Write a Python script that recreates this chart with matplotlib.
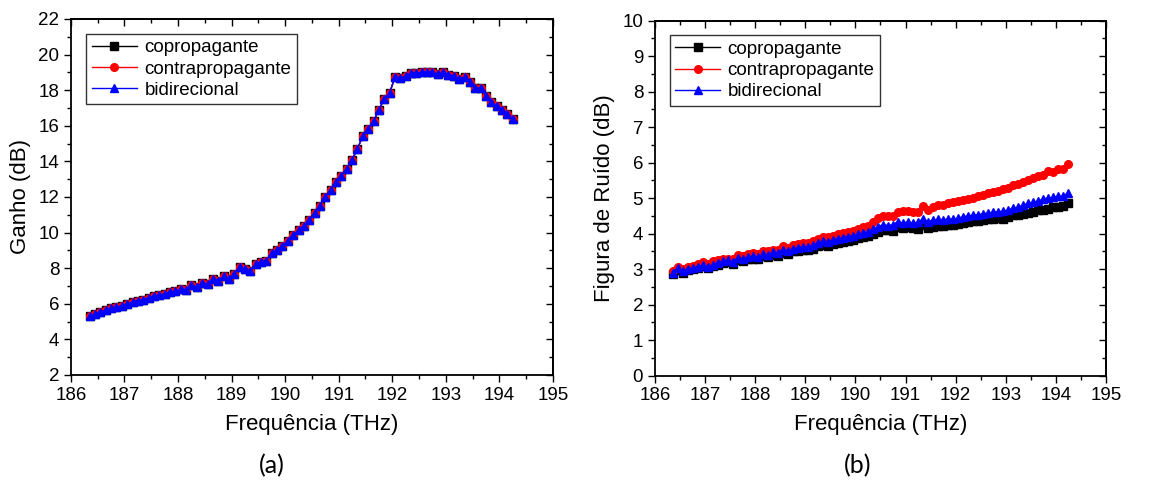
import numpy as np
import matplotlib
matplotlib.use('Agg')
import matplotlib.pyplot as plt
from matplotlib.ticker import MultipleLocator

plt.rcParams['font.family'] = ['Liberation Sans', 'DejaVu Sans']

# frequencias (THz)
freq = [186.35, 186.45, 186.55, 186.65, 186.75, 186.85, 186.95, 187.05, 187.15, 187.25,
        187.35, 187.45, 187.55, 187.65, 187.75, 187.85, 187.95, 188.05, 188.15, 188.25,
        188.35, 188.45, 188.55, 188.65, 188.75, 188.85, 188.95, 189.05, 189.15, 189.25,
        189.35, 189.45, 189.55, 189.65, 189.75, 189.85, 189.95, 190.05, 190.15, 190.25,
        190.35, 190.45, 190.55, 190.65, 190.75, 190.85, 190.95, 191.05, 191.15, 191.25,
        191.35, 191.45, 191.55, 191.65, 191.75, 191.85, 191.95, 192.05, 192.15, 192.25,
        192.35, 192.45, 192.55, 192.65, 192.75, 192.85, 192.95, 193.05, 193.15, 193.25,
        193.35, 193.45, 193.55, 193.65, 193.75, 193.85, 193.95, 194.05, 194.15, 194.25]

# ganho (dB) - as tres curvas praticamente coincidem
ganho = [5.30, 5.40, 5.55, 5.66, 5.75, 5.82, 5.88, 6.00, 6.08, 6.18,
         6.24, 6.34, 6.42, 6.47, 6.57, 6.64, 6.70, 6.82, 6.78, 7.05,
         6.96, 7.18, 7.10, 7.42, 7.30, 7.55, 7.38, 7.68, 8.04, 7.95,
         7.85, 8.25, 8.36, 8.42, 8.85, 9.05, 9.25, 9.55, 9.85, 10.12,
         10.35, 10.70, 11.10, 11.50, 12.00, 12.40, 12.85, 13.20, 13.60, 14.10,
         14.70, 15.45, 15.80, 16.25, 16.90, 17.50, 17.85, 18.72, 18.68, 18.78,
         18.95, 18.98, 19.00, 19.05, 19.02, 18.90, 19.00, 18.88, 18.80, 18.65,
         18.72, 18.48, 18.10, 18.15, 17.70, 17.35, 17.10, 16.90, 16.65, 16.38]
ganho_co = ganho
ganho_contra = ganho
ganho_bi = ganho

# figura de ruido (dB)
nf_co = [2.85, 2.98, 2.90, 2.97, 3.00, 3.02, 3.08, 3.02, 3.10, 3.13,
         3.17, 3.20, 3.15, 3.27, 3.22, 3.28, 3.30, 3.28, 3.37, 3.33,
         3.40, 3.38, 3.46, 3.42, 3.50, 3.52, 3.55, 3.53, 3.57, 3.65,
         3.68, 3.66, 3.71, 3.74, 3.76, 3.80, 3.83, 3.87, 3.90, 3.93,
         3.98, 4.05, 4.10, 4.10, 4.08, 4.20, 4.17, 4.18, 4.15, 4.13,
         4.25, 4.17, 4.20, 4.23, 4.22, 4.25, 4.25, 4.28, 4.30, 4.33,
         4.35, 4.36, 4.38, 4.40, 4.41, 4.43, 4.42, 4.48, 4.52, 4.53,
         4.56, 4.58, 4.60, 4.66, 4.67, 4.70, 4.75, 4.74, 4.78, 4.85]
nf_contra = [2.95, 3.07, 3.00, 3.07, 3.10, 3.14, 3.20, 3.15, 3.22, 3.25,
             3.28, 3.30, 3.28, 3.40, 3.38, 3.43, 3.45, 3.43, 3.52, 3.50,
             3.55, 3.54, 3.64, 3.60, 3.69, 3.72, 3.75, 3.74, 3.78, 3.85,
             3.92, 3.90, 3.94, 4.00, 4.02, 4.04, 4.07, 4.13, 4.18, 4.23,
             4.32, 4.45, 4.51, 4.51, 4.49, 4.62, 4.63, 4.63, 4.62, 4.61,
             4.78, 4.68, 4.76, 4.80, 4.82, 4.87, 4.89, 4.92, 4.95, 4.97,
             5.01, 5.05, 5.10, 5.14, 5.18, 5.21, 5.25, 5.30, 5.36, 5.41,
             5.45, 5.50, 5.58, 5.62, 5.65, 5.76, 5.74, 5.82, 5.83, 5.95]
nf_bi = [2.90, 3.02, 2.95, 3.00, 3.03, 3.06, 3.12, 3.06, 3.13, 3.18,
         3.22, 3.25, 3.20, 3.32, 3.28, 3.33, 3.36, 3.33, 3.42, 3.40,
         3.47, 3.45, 3.55, 3.50, 3.58, 3.60, 3.63, 3.62, 3.67, 3.74,
         3.79, 3.77, 3.82, 3.86, 3.88, 3.92, 3.94, 3.98, 4.02, 4.06,
         4.12, 4.20, 4.25, 4.23, 4.25, 4.34, 4.30, 4.33, 4.30, 4.32,
         4.42, 4.34, 4.38, 4.40, 4.38, 4.42, 4.40, 4.43, 4.48, 4.50,
         4.52, 4.53, 4.56, 4.58, 4.60, 4.62, 4.63, 4.67, 4.72, 4.75,
         4.80, 4.85, 4.88, 4.92, 4.98, 5.00, 5.02, 5.05, 5.05, 5.15]

legendas = ['copropagante', 'contrapropagante', 'bidirecional']
estilos = [('black', 's', 5.5), ('red', 'o', 5.5), ('blue', '^', 6)]


def estilo_eixo(ax, ymin, ymax, ymaj, ymin_step):
    ax.set_xlim(186, 195)
    ax.set_ylim(ymin, ymax)
    ax.xaxis.set_major_locator(MultipleLocator(1))
    ax.xaxis.set_minor_locator(MultipleLocator(0.5))
    ax.yaxis.set_major_locator(MultipleLocator(ymaj))
    ax.yaxis.set_minor_locator(MultipleLocator(ymin_step))
    ax.tick_params(which='major', direction='out', length=5, width=1, labelsize=13.5, colors='black')
    ax.tick_params(which='minor', direction='out', length=3, width=1)
    for s in ax.spines.values():
        s.set_linewidth(1.3)
    # ticks para dentro no topo e na direita (estilo Origin)
    top = ax.secondary_xaxis('top')
    top.xaxis.set_major_locator(MultipleLocator(1))
    top.xaxis.set_minor_locator(MultipleLocator(0.5))
    top.tick_params(which='major', direction='in', length=5, width=1, labeltop=False)
    top.tick_params(which='minor', direction='in', length=3, width=1)
    top.spines['top'].set_linewidth(1.3)
    right = ax.secondary_yaxis('right')
    right.yaxis.set_major_locator(MultipleLocator(ymaj))
    right.yaxis.set_minor_locator(MultipleLocator(ymin_step))
    right.tick_params(which='major', direction='in', length=5, width=1, labelright=False)
    right.tick_params(which='minor', direction='in', length=3, width=1)
    right.spines['right'].set_linewidth(1.3)
    ax.set_xlabel('Frequência (THz)', fontsize=16, labelpad=7)


fig = plt.figure(figsize=(11.65, 4.82), dpi=100)
ax1 = fig.add_axes([0.0609, 0.222, 0.4137, 0.7386])
ax2 = fig.add_axes([0.5622, 0.2207, 0.3871, 0.7363])

# %% (a) ganho
for y, lab, (c, m, ms) in zip([ganho_co, ganho_contra, ganho_bi], legendas, estilos):
    ax1.plot(freq, y, color=c, marker=m, markersize=ms, linewidth=1, label=lab)
estilo_eixo(ax1, 2, 22, 2, 1)
ax1.set_ylabel('Ganho (dB)', fontsize=16, labelpad=5)
leg = ax1.legend(loc='upper left', bbox_to_anchor=(0.02, 0.975), fontsize=13.5, frameon=True, fancybox=False,
                 edgecolor='black', handlelength=2.4, borderpad=0.3, labelspacing=0.22, handletextpad=0.4,
                 borderaxespad=0.3)
leg.get_frame().set_linewidth(1)

# %% (b) figura de ruido
for y, lab, (c, m, ms) in zip([nf_co, nf_contra, nf_bi], legendas, estilos):
    ax2.plot(freq, y, color=c, marker=m, markersize=ms, linewidth=1, label=lab)
estilo_eixo(ax2, 0, 10, 1, 0.5)
ax2.set_ylabel('Figura de Ruído (dB)', fontsize=16, labelpad=5)
leg = ax2.legend(loc='upper left', bbox_to_anchor=(0.02, 0.975), fontsize=13.5, frameon=True, fancybox=False,
                 edgecolor='black', handlelength=2.4, borderpad=0.3, labelspacing=0.22, handletextpad=0.4,
                 borderaxespad=0.3)
leg.get_frame().set_linewidth(1)

fig.text(0.2335, 0.033, '(a)', fontsize=18, ha='center', va='center', family=['Lato', 'DejaVu Sans'])
fig.text(0.736, 0.033, '(b)', fontsize=18, ha='center', va='center', family=['Lato', 'DejaVu Sans'])

fig.savefig('out.png', dpi=100)
